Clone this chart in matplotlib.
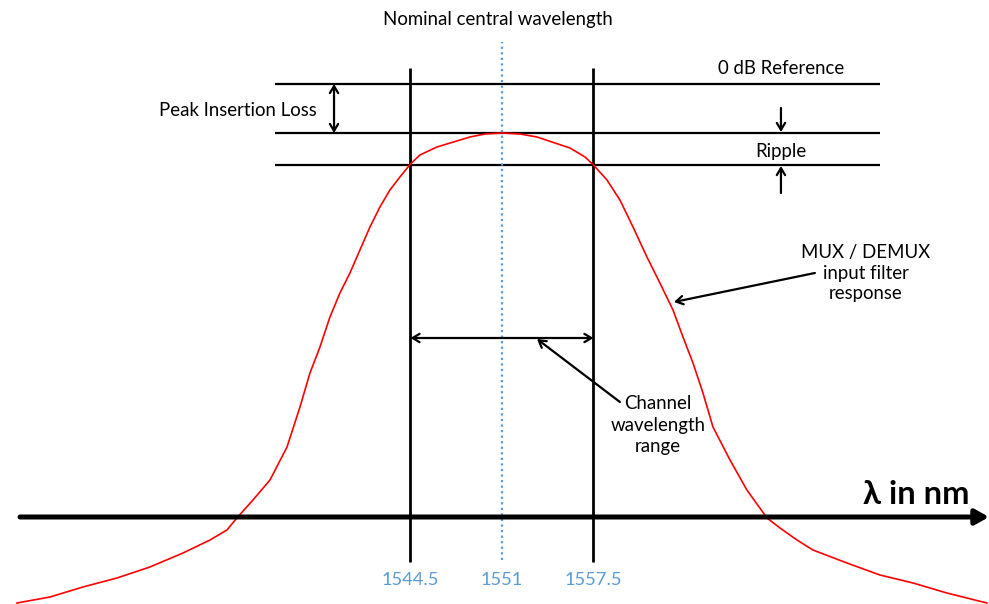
import matplotlib.pyplot as plt

plt.rcParams['font.family'] = ['Lato', 'DejaVu Sans']

# filter response curve (wavelength in nm, level in relative units, 0 = axis)
curve_nm = [1516.55, 1518.89, 1521.23, 1523.65, 1525.99, 1528.34, 1530.26, 1531.46,
            1532.17, 1533.31, 1534.52, 1535.73, 1536.65, 1537.36, 1538.07, 1538.78,
            1539.49, 1540.20, 1540.91, 1541.62, 1542.33, 1543.04, 1543.75, 1544.5,
            1545.17, 1546.38, 1548.73, 1549.79, 1551.0, 1552.28, 1553.49, 1555.83,
            1556.90, 1557.5, 1558.46, 1559.38, 1560.31, 1561.30, 1562.22, 1563.15,
            1563.86, 1564.57, 1565.28, 1565.99, 1567.20, 1568.40, 1569.83, 1570.75,
            1571.96, 1573.09, 1575.51, 1577.85, 1580.20, 1582.61, 1585.45]
curve_lvl = [-86, -80, -70, -61, -50, -36, -23, -13,
             -1, 17, 37, 70, 110, 144, 170, 200,
             224, 244, 267, 290, 310, 327, 340, 353,
             362, 370, 380, 383, 384, 383, 380, 369,
             360, 352, 337, 317, 290, 260, 234, 207,
             180, 154, 124, 90, 57, 27, -1, -11,
             -23, -33, -46, -58, -66, -76, -86]

ref_lvl = 433       # 0 dB reference
peak_lvl = 384      # peak of the filter
ripple_lvl = 352    # ripple limit
chan_lo, chan_c, chan_hi = 1544.5, 1551, 1557.5
tick_vals = [1544.5, 1551, 1557.5]
tick_labels = ['1544.5', '1551', '1557.5']

fig = plt.figure(figsize=(9.89, 6.04), dpi=100)
ax = fig.add_axes([0, 0, 1, 1])
ax.set_xlim(1515.34, 1585.6)
ax.set_ylim(-87, 517)
ax.axis('off')

# horizontal reference lines
for lv in [ref_lvl, peak_lvl, ripple_lvl]:
    ax.plot([1534.87, 1577.85], [lv, lv], color='black', lw=1.6, solid_capstyle='butt')

# channel limits and nominal centre
for x in [chan_lo, chan_hi]:
    ax.plot([x, x], [-45, 449], color='black', lw=2.0, solid_capstyle='butt')
ax.plot([chan_c, chan_c], [-43, 475], color='#5B9BD5', lw=1.6, linestyle=(0, (1, 1.5)))

# filter response
ax.plot(curve_nm, curve_lvl, color='red', lw=1.2, solid_joinstyle='round')

# wavelength axis
ax.annotate('', xy=(1585.6, 0), xytext=(1516.76, 0),
            arrowprops=dict(arrowstyle='-|>,head_length=0.8,head_width=0.45',
                            color='black', lw=3.6, shrinkA=0, shrinkB=0))
ax.text(1584.25, 23, 'λ in nm', ha='right', va='center', fontsize=23.5, fontweight='bold')

for v, lab in zip(tick_vals, tick_labels):
    ax.text(v, -63, lab, ha='center', va='center', fontsize=13.2, color='#5B9BD5')

arr = dict(arrowstyle='<->,head_length=0.5,head_width=0.3', color='black', lw=1.6,
           shrinkA=0, shrinkB=0)
one = dict(arrowstyle='->,head_length=0.5,head_width=0.3', color='black', lw=1.6,
           shrinkA=0, shrinkB=0)

# peak insertion loss
ax.annotate('', xy=(1539.07, peak_lvl), xytext=(1539.07, ref_lvl), arrowprops=arr)
ax.text(1537.86, 407, 'Peak Insertion Loss', ha='right', va='center', fontsize=13.4)

# ripple
ax.annotate('', xy=(1570.82, peak_lvl + 1), xytext=(1570.82, 409), arrowprops=one)
ax.annotate('', xy=(1570.82, ripple_lvl - 1), xytext=(1570.82, 324), arrowprops=one)
ax.text(1570.82, 366, 'Ripple', ha='center', va='center', fontsize=13.4)
ax.text(1570.82, 449, '0 dB Reference', ha='center', va='center', fontsize=13.4)

ax.text(1550.72, 497, 'Nominal central wavelength', ha='center', va='center', fontsize=13.4)

# channel wavelength range
ax.annotate('', xy=(chan_lo, 179), xytext=(chan_hi, 179), arrowprops=arr)
ax.annotate('', xy=(1553.49, 178), xytext=(1559.38, 115), arrowprops=one)
ax.text(1562.08, 92, 'Channel\nwavelength\nrange', ha='center', va='center',
        fontsize=13.4, linespacing=1.3)

# filter label
ax.annotate('', xy=(1563.22, 215), xytext=(1573.23, 244), arrowprops=one)
ax.text(1576.86, 244, 'MUX / DEMUX\ninput filter\nresponse', ha='center', va='center',
        fontsize=13.4, linespacing=1.25)

fig.savefig('out.png', dpi=100)
